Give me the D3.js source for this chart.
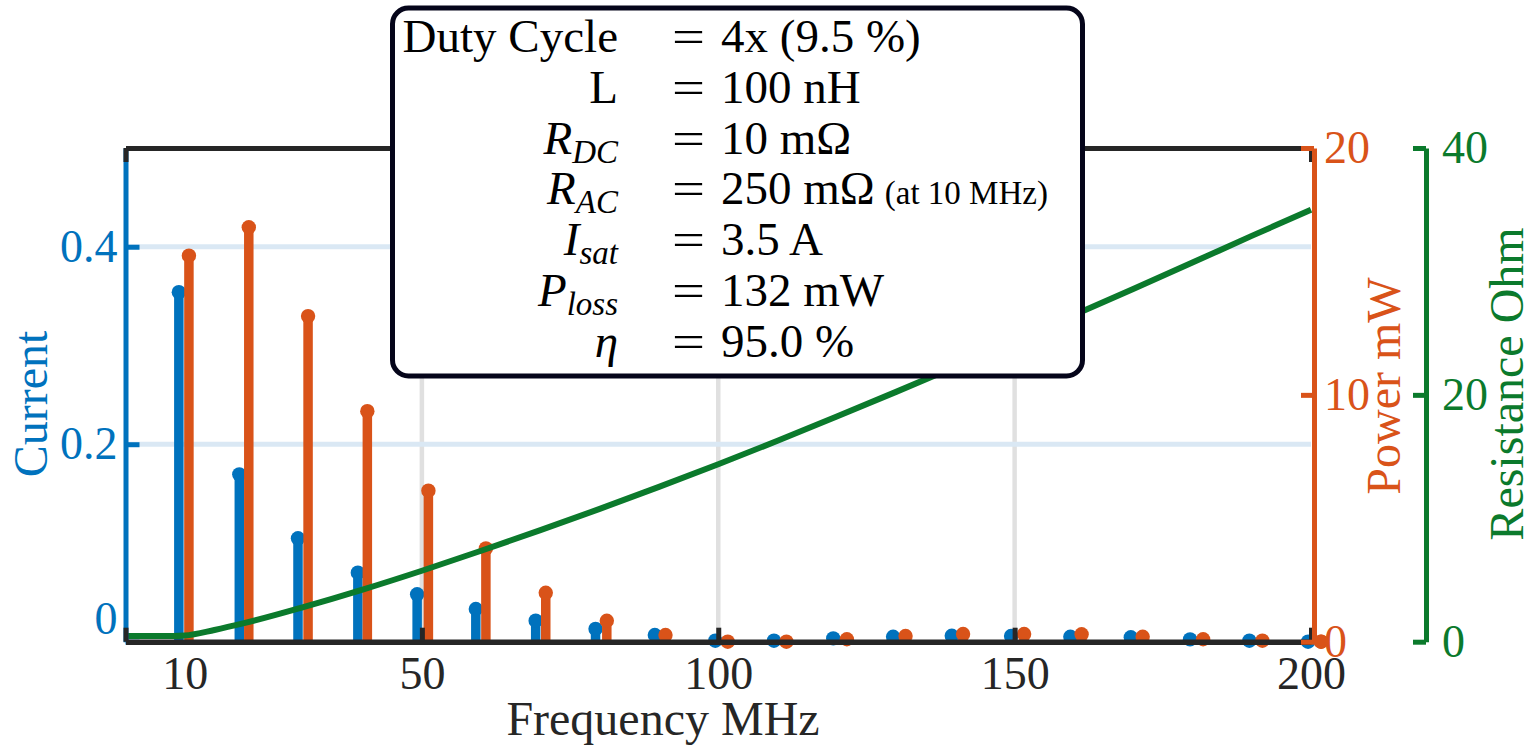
<!DOCTYPE html>
<html>
<head>
<meta charset="utf-8">
<script src="https://cdn.jsdelivr.net/npm/d3@7"></script>
<style>
  html, body { margin: 0; padding: 0; background: #fff; }
  svg { display: block; font-family: "Liberation Serif", "Times New Roman", Times, serif; }
</style>
</head>
<body>
<svg id="chart" width="1532" height="752"></svg>
<script>
// ---------------- DATA ----------------
const xTickMarks   = [0, 50, 100, 150, 200];
const xTickLabels  = [10, 50, 100, 150, 200];
const xGrid        = [50, 100, 150];
const currentTicks = [0, 0.2, 0.4];
const powerTicks   = [0, 10, 20];
const resTicks     = [0, 20, 40];

const currentFreq = [9.0, 19.2, 29.1, 39.2, 49.2, 59.1, 69.2, 79.3, 89.3, 99.5,
                     109.4, 119.4, 129.5, 139.4, 149.4, 159.4, 169.6, 179.6, 189.6, 199.5];
const currentVals = [0.354, 0.1695, 0.1047, 0.0699, 0.048, 0.0331, 0.0213, 0.0129, 0.0068, 0.001,
                     0.001, 0.0034, 0.005, 0.006, 0.0058, 0.005, 0.0045, 0.0024, 0.001, 0.0];

const powerFreq = [10.7, 20.8, 30.8, 40.8, 51.1, 60.8, 70.9, 81.2, 91.1, 101.6,
                   111.5, 121.7, 131.6, 141.3, 151.6, 161.3, 171.6, 181.8, 191.8, 201.7];
const powerVals = [15.64, 16.79, 13.19, 9.34, 6.12, 3.78, 1.98, 0.85, 0.27, 0.0,
                   0.0, 0.1, 0.23, 0.31, 0.31, 0.3, 0.2, 0.1, 0.04, 0.0];

const resFreq = [0, 8, 10, 15, 20, 30, 40, 50, 60, 70, 80, 90, 100,
                 110, 120, 130, 140, 150, 160, 170, 180, 190, 200];
const resVals = [0.46, 0.46, 0.5, 0.95, 1.5, 2.8, 4.22, 5.75, 7.37, 9.04, 10.76, 12.54, 14.38,
                 16.28, 18.24, 20.24, 22.28, 24.36, 26.46, 28.58, 30.72, 32.88, 35.0];

const legendNames  = ["Duty Cycle", "L", "R|DC", "R|AC", "I|sat", "P|loss", "η"];
const legendValues = ["4x (9.5 %)", "100 nH", "10 mΩ", "250 mΩ", "3.5 A", "132 mW", "95.0 %"];
const legendNotes  = ["", "", "", "(at 10 MHz)", "", "", ""];

// ---------------- STYLE ----------------
const C_BLUE = "#0072BD", C_ORANGE = "#D95319", C_GREEN = "#0B7A2C", C_AX = "#262626";
const FONT = "'Liberation Serif', 'Times New Roman', Times, serif";
const svg = d3.select("#chart");
svg.append("rect").attr("width", 1532).attr("height", 752).attr("fill", "#fff");

const x    = d3.scaleLinear().domain([0, 200]).range([125.5, 1311]);
const yCur = d3.scaleLinear().domain([0, 0.5]).range([641.7, 148]);
const yPow = d3.scaleLinear().domain([0, 20]).range([641.7, 148]);
const yRes = d3.scaleLinear().domain([0, 40]).range([641.7, 148]);
const X0 = x(0), X1 = x(200), Y0 = yCur(0), Y1 = yCur(0.5);

// grid
svg.append("g").selectAll("line").data(xGrid).join("line")
  .attr("x1", d => x(d)).attr("x2", d => x(d)).attr("y1", Y1).attr("y2", Y0)
  .attr("stroke", "#e0e0e0").attr("stroke-width", 4.5);
svg.append("g").selectAll("line").data(currentTicks.filter(d => d > 0)).join("line")
  .attr("x1", X0).attr("x2", X1).attr("y1", d => yCur(d)).attr("y2", d => yCur(d))
  .attr("stroke", "#dae8f4").attr("stroke-width", 5);

// stems
function stems(freq, vals, ys, color) {
  const g = svg.append("g");
  const data = freq.map((f, i) => ({f, v: vals[i]}));
  g.selectAll("line").data(data).join("line")
    .attr("x1", d => x(d.f)).attr("x2", d => x(d.f))
    .attr("y1", ys(0)).attr("y2", d => ys(d.v))
    .attr("stroke", color).attr("stroke-width", 9.5);
  g.selectAll("circle").data(data).join("circle")
    .attr("cx", d => x(d.f)).attr("cy", d => ys(d.v)).attr("r", 7.2)
    .attr("fill", color);
}
stems(currentFreq, currentVals, yCur, C_BLUE);
stems(powerFreq, powerVals, yPow, C_ORANGE);

// resistance line
svg.append("path")
  .datum(resFreq.map((f, i) => [f, resVals[i]]))
  .attr("d", d3.line().x(d => x(d[0])).y(d => yRes(d[1])).curve(d3.curveMonotoneX))
  .attr("fill", "none").attr("stroke", C_GREEN).attr("stroke-width", 6);

// left current axis
const gL = svg.append("g").attr("transform", `translate(${X0},0)`)
  .call(d3.axisLeft(yCur).tickValues(currentTicks).tickSizeInner(-14).tickSizeOuter(0).tickPadding(8)
    .tickFormat(d => d === 0 ? "0" : d3.format(".1f")(d)));
gL.attr("font-family", FONT);
gL.select(".domain").attr("stroke", C_BLUE).attr("stroke-width", 5);
gL.selectAll(".tick line").attr("stroke", C_BLUE).attr("stroke-width", 5);
gL.selectAll(".tick text").attr("fill", C_BLUE).style("font-size", "46px")
  .attr("dy", d => d === 0 ? "-0.18em" : "0.32em");

// black box frame: bottom & top with ticks
const gB = svg.append("g").attr("transform", `translate(0,${Y0})`)
  .call(d3.axisBottom(x).tickValues(xTickMarks).tickSizeInner(-14).tickSizeOuter(0).tickFormat(""));
gB.select(".domain").attr("stroke", C_AX).attr("stroke-width", 5.5);
gB.selectAll(".tick line").attr("stroke", C_AX).attr("stroke-width", 5);
const gBL = svg.append("g").attr("transform", `translate(0,${Y0})`)
  .call(d3.axisBottom(x).tickValues(xTickLabels).tickSize(0).tickPadding(15).tickFormat(d3.format("d")));
gBL.attr("font-family", FONT);
gBL.select(".domain").remove();
gBL.selectAll(".tick text").attr("fill", C_AX).style("font-size", "46px");
const gT = svg.append("g").attr("transform", `translate(0,${Y1})`)
  .call(d3.axisTop(x).tickValues(xTickMarks).tickSizeInner(-14).tickSizeOuter(0).tickFormat(""));
gT.select(".domain").attr("stroke", C_AX).attr("stroke-width", 5);
gT.selectAll(".tick line").attr("stroke", C_AX).attr("stroke-width", 5);

// right power axis
const gP = svg.append("g").attr("transform", `translate(${X1 + 3},0)`)
  .call(d3.axisRight(yPow).tickValues(powerTicks).tickSizeInner(-13).tickSizeOuter(0).tickPadding(10));
gP.attr("font-family", FONT);
gP.select(".domain").attr("stroke", C_ORANGE).attr("stroke-width", 5);
gP.selectAll(".tick line").attr("stroke", C_ORANGE).attr("stroke-width", 5);
gP.selectAll(".tick text").attr("fill", C_ORANGE).style("font-size", "46px");

// resistance axis
const gR = svg.append("g").attr("transform", "translate(1426,0)")
  .call(d3.axisRight(yRes).tickValues(resTicks).tickSizeInner(-13).tickSizeOuter(0).tickPadding(16));
gR.attr("font-family", FONT);
gR.select(".domain").attr("stroke", C_GREEN).attr("stroke-width", 5);
gR.selectAll(".tick line").attr("stroke", C_GREEN).attr("stroke-width", 5);
gR.selectAll(".tick text").attr("fill", C_GREEN).style("font-size", "46px");

// orange marker at 200 drawn over the axis
svg.append("circle").attr("cx", x(powerFreq[powerFreq.length - 1])).attr("cy", yPow(powerVals[powerVals.length - 1]))
  .attr("r", 7.2).attr("fill", C_ORANGE);

// axis labels
svg.append("text").attr("x", 663).attr("y", 735).attr("text-anchor", "middle")
  .attr("fill", C_AX).style("font-size", "48px").text("Frequency MHz");
svg.append("text").attr("transform", "translate(47,404) rotate(-90)").attr("text-anchor", "middle")
  .attr("fill", C_BLUE).style("font-size", "48px").text("Current");
svg.append("text").attr("transform", "translate(1400,386) rotate(-90)").attr("text-anchor", "middle")
  .attr("fill", C_ORANGE).style("font-size", "48px").text("Power mW");
svg.append("text").attr("transform", "translate(1523,384) rotate(-90)").attr("text-anchor", "middle")
  .attr("fill", C_GREEN).style("font-size", "48px").text("Resistance Ohm");

// legend box
const lg = svg.append("g");
lg.append("rect").attr("x", 392.5).attr("y", 8).attr("width", 690).attr("height", 368).attr("rx", 16)
  .attr("fill", "#fff").attr("stroke", "#05051a").attr("stroke-width", 5);
legendNames.forEach((name, i) => {
  const base = 52 + i * 50.8;
  const t = lg.append("text").attr("x", 618).attr("y", base).attr("text-anchor", "end")
    .attr("fill", "#000").style("font-size", "47px");
  if (name.includes("|")) {
    const [main, sub] = name.split("|");
    t.append("tspan").style("font-style", "italic").text(main);
    t.append("tspan").attr("dy", 9).style("font-style", "italic").style("font-size", "33px").text(sub);
  } else if (name === "η") {
    t.append("tspan").style("font-style", "italic").text(name);
  } else {
    t.text(name);
  }
  lg.append("text").attr("x", 672).attr("y", base).attr("fill", "#000").style("font-size", "47px")
    .attr("textLength", 33).attr("lengthAdjust", "spacingAndGlyphs").text("=");
  const v = lg.append("text").attr("x", 721).attr("y", base).attr("fill", "#000").style("font-size", "47px");
  v.append("tspan").text(legendValues[i]);
  if (legendNotes[i]) v.append("tspan").attr("dx", 10).style("font-size", "33px").text(legendNotes[i]);
});
</script>
</body>
</html>
